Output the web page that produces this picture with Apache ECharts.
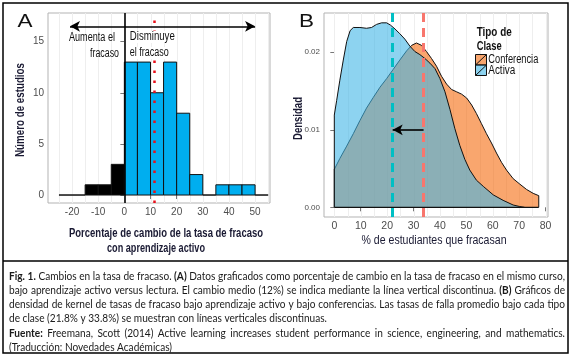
<!DOCTYPE html>
<html><head><meta charset="utf-8">
<script src="https://cdn.jsdelivr.net/npm/echarts@6/dist/echarts.min.js"></script>
<style>html,body{margin:0;padding:0;background:#fff}#c{width:572px;height:355px}</style>
</head><body><div id="c"></div>
<script>
// ---------- Panel A: histogram of % change in failure rate ----------
const binStarts = [-25,-20,-15,-10,-5,0,5,10,15,20,25,30,35,40,45,50];
const binCounts = [0,0,1,1,3,13,13,10,13,8,2,0,1,1,1,0];
const binWidth = 5;
const meanChangeA = 11.6;
const arrowYA = 16.5;
const arrowFromA = -20.8, arrowToA = 50;
const xTicksA = [-20,-10,0,10,20,30,40,50];
const yTicksA = [0,5,10,15];

// ---------- Panel B: kernel densities ----------
const lectureX = [0,0,2.1,4.7,7.2,9.7,12.2,14.8,17.3,19.8,22.3,24.8,27.4,29.3,31.1,33.0,34.9,36.8,38.7,40.6,42.5,44.4,46.3,48.2,50.1,52.0,53.8,55.7,57.6,59.5,61.4,63.3,65.2,67.7,70.2,72.8,75.3,77.4,77.4];
const lectureY = [0,0.0049,0.0063,0.0079,0.0095,0.0112,0.0128,0.0142,0.0155,0.0166,0.0178,0.0190,0.0202,0.0209,0.0212,0.0209,0.0201,0.0192,0.0182,0.0169,0.0159,0.0152,0.0149,0.0146,0.0141,0.0132,0.0121,0.0108,0.0095,0.0083,0.0070,0.0058,0.0048,0.0037,0.0030,0.0023,0.0018,0.0015,0];
const activeX = [0,0,0.9,2.1,3.4,4.7,6.0,7.2,9.7,12.2,14.1,16.0,17.9,19.8,21.3,23.0,24.8,26.7,28.6,30.5,32.4,34.3,36.2,38.1,40.0,41.9,43.8,45.6,47.5,49.4,51.3,53.8,56.4,60.2,63.9,67.7,70.2,72.0];
const activeY = [0,0.0119,0.0138,0.0164,0.0190,0.0214,0.0228,0.0232,0.0232,0.0231,0.0232,0.0236,0.0238,0.0238,0.0235,0.0230,0.0224,0.0217,0.0208,0.0201,0.0197,0.0192,0.0186,0.0179,0.0166,0.0149,0.0126,0.0102,0.0080,0.0062,0.0048,0.0035,0.0027,0.0016,0.0009,0.0003,0.0001,0];
const meanActive = 21.8, meanLecture = 33.8;
const arrowYB = 0.01;
const xTicksB = [0,10,20,30,40,50,60,70,80];
const yTicksB = [0,0.01,0.02];
const legendTitle = ['Tipo de','Clase'];
const legendNames = ['Conferencia','Activa'];

// ---------- caption ----------
const captionLines = [
  {t:'Fig. 1. Cambios en la tasa de fracaso. (A) Datos graficados como porcentaje de cambio en la tasa de fracaso en el mismo curso,', j:true},
  {t:'bajo aprendizaje activo versus lectura. El cambio medio (12%) se indica mediante la línea vertical discontinua. (B) Gráficos de', j:true},
  {t:'densidad de kernel de tasas de fracaso bajo aprendizaje activo y bajo conferencias. Las tasas de falla promedio bajo cada tipo', j:true},
  {t:'de clase (21.8% y 33.8%) se muestran con líneas verticales discontinuas.', j:false},
  {t:'Fuente: Freemana, Scott (2014) Active learning increases student performance in science, engineering, and mathematics.', j:true},
  {t:'(Traducción: Novedades Académicas)', j:false}
];
const boldWords = ['Fig.','1.','(A)','(B)','Fuente:'];

// ---------- styles ----------
const SANS = '"Liberation Sans",Arial,sans-serif';
const CAPF = 'Lato,"Open Sans",sans-serif';
const TITLE_C = '#1a1a33';
const LECT_FILL = 'rgba(245,107,13,0.6)';
const ACT_FILL = 'rgba(65,182,230,0.6)';

const chart = echarts.init(document.getElementById('c'));
const meas = document.createElement('canvas').getContext('2d');
function mw(text, size, family, bold){ meas.font=(bold?'bold ':'')+size+'px '+family; return meas.measureText(text).width; }

const histData = binStarts.map((s,i)=>[s, s+binWidth, binCounts[i]]);
const zip = (xs,ys)=>xs.map((x,i)=>[x,ys[i]]);
const gridValsA=[]; for(let v=-25; v<=55; v+=5) gridValsA.push([v]);
const gridValsB=[]; for(let v=0; v<=80; v+=5) gridValsB.push([v]);
const Y_A=[-0.78,17.8], Y_B=[-0.00125,0.02507];

const tickLbl = {color:'#4d4d4d', fontFamily:SANS, fontSize:10, margin:4};
function axisCfg(idx,min,max,ticks,lbl){
  return {type:'value', gridIndex:idx, min, max, axisLine:{show:false},
    axisTick:{show:true, customValues:ticks, length:4, lineStyle:{color:'#777'}},
    axisLabel:Object.assign({customValues:ticks}, lbl), splitLine:{show:false}};
}
function gridSeries(ax, vals, yr){
  return {type:'custom', xAxisIndex:ax, yAxisIndex:ax, z:1, silent:true, data:vals, encode:{x:0},
    renderItem:(p,api)=>{const x=api.value(0); const a=api.coord([x,yr[0]]), b=api.coord([x,yr[1]]);
      return {type:'line', shape:{x1:Math.round(a[0])+0.5,y1:a[1],x2:Math.round(b[0])+0.5,y2:b[1]}, style:{stroke:'#eeeeee', lineWidth:1}};}};
}

// caption words, justified; scale so that line 1 has natural spacing
const capSize = 12;
const capLeft = 9, capRight = 565, capTop = 276, capStep = 14.2;
function lineNatural(ln, li){
  return ln.t.split(' ').reduce((a,w)=>a+mw(w,capSize,CAPF,boldWords.includes(w)&&!(w==='1.'&&li>0)),0)
    + (ln.t.split(' ').length-1)*mw(' ',capSize,CAPF,false);
}
const capScale = (capRight-capLeft) / lineNatural(captionLines[0],0);
const capGraphics = [];
captionLines.forEach((ln, li)=>{
  const words = ln.t.split(' ');
  const info = words.map(w=>{
    const b = boldWords.includes(w) && !(w==='1.' && li>0);
    return {w, b, width: mw(w, capSize, CAPF, b)*capScale};
  });
  const space = mw(' ', capSize, CAPF, false)*capScale;
  const sum = info.reduce((a,o)=>a+o.width,0);
  const gap = ln.j ? (capRight-capLeft-sum)/(words.length-1) : space;
  let x = capLeft;
  info.forEach(o=>{
    capGraphics.push({type:'text', x, y: capTop+li*capStep, scaleX:capScale, silent:true, z:100,
      style:{text:o.w, fill:'#1a1a1a', fontFamily:CAPF, fontSize:capSize, fontWeight:o.b?'bold':'normal', align:'left', verticalAlign:'middle'}});
    x += o.width + gap;
  });
});

// text fitted to a measured target width
function fit(text,x,y,w,o){
  o=o||{};
  const size=o.size||12, fam=o.ff||SANS;
  const sx = w / mw(text,size,fam,o.bold);
  const st = {text, fill:o.color||'#111', fontFamily:fam, fontSize:size, fontWeight:o.bold?'bold':'normal', align:o.align||'left', verticalAlign:'middle'};
  if(o.bg){ st.backgroundColor=o.bg; st.padding=[0,1]; }
  return {type:'text', x, y, rotation:o.rot||0, scaleX:sx, silent:true, z:100, style:st};
}

const option = {
  animation:false,
  grid:[
    {left:48, top:13, width:222, height:190, show:true, borderColor:'#b3b3b3', borderWidth:1, backgroundColor:'#fff'},
    {left:324, top:13, width:224, height:204, show:true, borderColor:'#b3b3b3', borderWidth:1, backgroundColor:'#fff'}
  ],
  xAxis:[
    axisCfg(0,-29.2,55.7,xTicksA,Object.assign({},tickLbl,{fontSize:10})),
    axisCfg(1,-3.9,80.9,xTicksB,Object.assign({},tickLbl,{fontSize:10.5}))
  ],
  yAxis:[
    axisCfg(0,Y_A[0],Y_A[1],yTicksA,Object.assign({},tickLbl,{fontSize:10})),
    axisCfg(1,Y_B[0],Y_B[1],yTicksB,Object.assign({},tickLbl,{fontSize:8, formatter:v=>v.toFixed(2)}))
  ],
  series:[
    gridSeries(0, gridValsA, Y_A),
    {type:'custom', xAxisIndex:0, yAxisIndex:0, z:2, data:histData, encode:{x:[0,1], y:2}, silent:true,
      renderItem:(params, api)=>{
        const x0=api.value(0), x1=api.value(1), c=api.value(2);
        const p0=api.coord([x0,c]), p1=api.coord([x1,0]);
        return {type:'rect', shape:{x:p0[0], y:p0[1], width:p1[0]-p0[0], height:p1[1]-p0[1]},
          style:{fill: x0<0?'#000':'#00AEEF', stroke:'#111', lineWidth:1}};
      }},
    {type:'line', xAxisIndex:0, yAxisIndex:0, data:[], z:3, silent:true,
      markLine:{silent:true, symbol:'none', label:{show:false}, lineStyle:{color:'#000', width:1.6, type:'solid'}, data:[{xAxis:0}]}},
    {type:'line', xAxisIndex:0, yAxisIndex:0, data:[], z:4, silent:true,
      markLine:{silent:true, symbol:'none', label:{show:false}, lineStyle:{color:'#e8101a', width:2.5, type:[2.5,7.5], cap:'butt'}, data:[{xAxis:meanChangeA}]}},
    {type:'line', xAxisIndex:0, yAxisIndex:0, data:[], z:5, silent:true,
      markLine:{silent:true, symbol:['arrow','arrow'], symbolSize:[8,10], label:{show:false}, lineStyle:{color:'#000', width:1.6, type:'solid'},
        data:[[{coord:[arrowFromA,arrowYA]},{coord:[arrowToA,arrowYA]}]]}},
    // Panel B
    gridSeries(1, gridValsB, Y_B),
    {type:'line', name:legendNames[0], xAxisIndex:1, yAxisIndex:1, z:2, data:zip(lectureX,lectureY), symbol:'none', silent:true,
      lineStyle:{color:'#111', width:1}, areaStyle:{color:LECT_FILL, opacity:1}},
    {type:'line', name:legendNames[1], xAxisIndex:1, yAxisIndex:1, z:3, data:zip(activeX,activeY), symbol:'none', silent:true,
      lineStyle:{color:'#111', width:1}, areaStyle:{color:ACT_FILL, opacity:1}},
    {type:'line', xAxisIndex:1, yAxisIndex:1, z:4, data:[[lectureX[0],0],[lectureX[lectureX.length-1],0]], symbol:'none', silent:true,
      lineStyle:{color:'#111', width:1.2}},
    {type:'line', xAxisIndex:1, yAxisIndex:1, data:[], z:5, silent:true,
      markLine:{silent:true, symbol:'none', label:{show:false}, lineStyle:{width:3, type:[9,6], cap:'butt'},
        data:[{xAxis:meanActive, lineStyle:{color:'#00BFC4'}},{xAxis:meanLecture, lineStyle:{color:'#F8766D'}}]}},
    {type:'line', xAxisIndex:1, yAxisIndex:1, data:[], z:6, silent:true,
      markLine:{silent:true, symbol:['none','arrow'], symbolSize:[8,10], label:{show:false}, lineStyle:{color:'#000', width:1.6, type:'solid'},
        data:[[{coord:[meanLecture,arrowYB]},{coord:[meanActive+0.3,arrowYB]}]]}}
  ],
  graphic:[
    {type:'rect', shape:{x:3, y:3, width:565, height:350}, style:{fill:null, stroke:'#000', lineWidth:1.5}, silent:true, z:100},
    {type:'line', shape:{x1:3, y1:261, x2:568, y2:261}, style:{stroke:'#000', lineWidth:1.5}, silent:true, z:100},
    fit('A',17.5,22,15,{size:19}),
    fit('B',299,22,15,{size:19}),
    fit('Número de estudios',20.5,110,94,{bold:true,size:12.5,align:'center',rot:Math.PI/2,color:TITLE_C}),
    fit('Aumenta el',69,38,46,{size:12}),
    fit('fracaso',90,54,29,{size:12}),
    fit('Disminuye',129,37,45,{size:12,bg:'#fff'}),
    fit('el fracaso',129,53,39,{size:12,bg:'#fff'}),
    fit('Porcentaje de cambio de la tasa de fracaso',166,234,194,{bold:true,size:12.5,align:'center',color:TITLE_C}),
    fit('con aprendizaje activo',156,249,98,{bold:true,size:12.5,align:'center',color:TITLE_C}),
    fit('Densidad',298.5,118.5,43,{bold:true,size:12.5,align:'center',rot:Math.PI/2,color:TITLE_C}),
    fit('% de estudiantes que fracasan',434,241,145,{size:12.5,align:'center',color:TITLE_C}),
    fit(legendTitle[0],476.7,32.7,35,{bold:true,size:12.5}),
    fit(legendTitle[1],476.7,47,25,{bold:true,size:12.5}),
    {type:'rect', shape:{x:475.5,y:54.5,width:11,height:10.5}, style:{fill:LECT_FILL, stroke:'#111', lineWidth:1}, silent:true, z:100},
    {type:'line', shape:{x1:475.5,y1:65,x2:486.5,y2:54.5}, style:{stroke:'#111', lineWidth:1}, silent:true, z:101},
    {type:'rect', shape:{x:475.5,y:65,width:11,height:10.5}, style:{fill:ACT_FILL, stroke:'#111', lineWidth:1}, silent:true, z:100},
    {type:'line', shape:{x1:475.5,y1:75.5,x2:486.5,y2:65}, style:{stroke:'#111', lineWidth:1}, silent:true, z:101},
    fit(legendNames[0],488.3,60,50,{size:12}),
    fit(legendNames[1],488.3,70.7,27,{size:12})
  ].concat(capGraphics)
};
chart.setOption(option);
</script></body></html>
